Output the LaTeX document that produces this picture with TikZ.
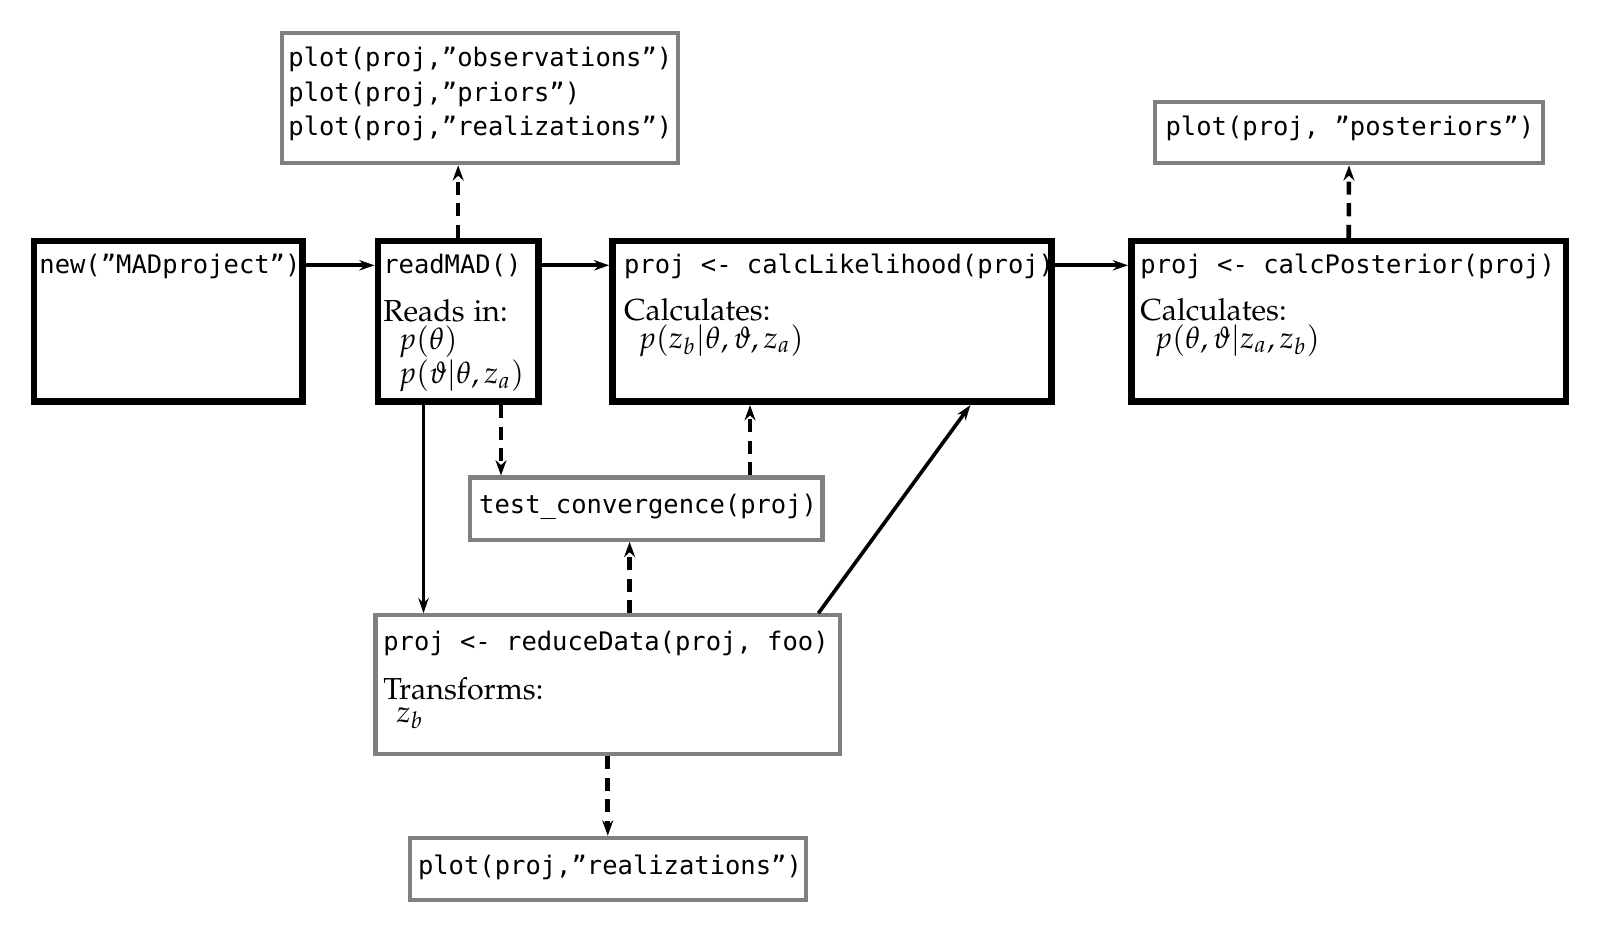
\documentclass[tikz,border=0pt]{standalone}
\usepackage[T1]{fontenc}
\usepackage{mathpazo}
\usepackage{fontspec}
\setmonofont{DejaVu Sans Mono}[Scale=0.84]
\usetikzlibrary{arrows.meta,calc}

% one drawing unit in points
\newcommand{\pxu}{0.3293pt}
\newcommand{\qq}{\textquotedblright}
\newcommand{\palfont}{\fontencoding{T1}\fontfamily{pplx}\selectfont}

\tikzset{
  thickbox/.style={draw=black, line width=2.2pt, rectangle, inner sep=0pt},
  graybox/.style={draw=gray, line width=1.35pt, rectangle, inner sep=0pt},
  txt/.style={anchor=base west, inner sep=0pt, font=\fontsize{10}{12}\palfont},
  code/.style={anchor=base west, inner sep=0pt, font=\fontsize{10}{12}\selectfont\ttfamily},
  flow/.style={line width=1.2pt, -{Stealth[length=5pt,width=3.4pt,inset=1.6pt]}},
  dflow/.style={line width=1.5pt, dash pattern=on 4.3pt off 2.8pt,
                -{Stealth[length=5pt,width=3.6pt,inset=1.6pt]}},
}

\begin{document}
\begin{tikzpicture}[x=\pxu, y=-\pxu]
\useasboundingbox (0,0) rectangle (1600,928);

% ---- main pipeline boxes
\node[thickbox, minimum width=268.8*\pxu, minimum height=160.6*\pxu] (new)  at (168.4,321.45) {};
\node[thickbox, minimum width=160.6*\pxu, minimum height=160.6*\pxu] (rm)   at (458.15,321.45) {};
\node[thickbox, minimum width=439.1*\pxu, minimum height=160.6*\pxu] (lik)  at (832.1,321.45) {};
\node[thickbox, minimum width=434.7*\pxu, minimum height=160.6*\pxu] (post) at (1348.7,321.45) {};

% ---- auxiliary boxes
\node[graybox, minimum width=396*\pxu,   minimum height=130.7*\pxu] (plots) at (479.6,97.95) {};
\node[graybox, minimum width=388*\pxu,   minimum height=61.3*\pxu]  (pplot) at (1349,132.65) {};
\node[graybox, minimum width=352.1*\pxu, minimum height=62.3*\pxu]  (tc)    at (646.45,508.65) {};
\node[graybox, minimum width=464.5*\pxu, minimum height=138.8*\pxu] (red)   at (607.75,684.7) {};
\node[graybox, minimum width=396*\pxu,   minimum height=62.3*\pxu]  (preal) at (608.2,868.85) {};

% ---- texts
\node[code] (tnew) at (38.8,273.5) {new(\qq MADproject\qq)};

\node[code] (trm)  at (382.7,273.5) {readMAD()};
\node[txt]  (trm1) at (382.7,321.4) {Reads in:};
\node[txt]  (trm2) at (398,349) {$p(\theta)$};
\node[txt]  (trm3) at (398,383.5) {$p(\vartheta|\theta,z_a)$};

\node[code] (tlik)  at (623.5,273.5) {proj <- calcLikelihood(proj)};
\node[txt]  (tlik1) at (623.5,320.4) {Calculates:};
\node[txt]  (tlik2) at (637.8,348) {$p(z_b|\theta,\vartheta,z_a)$};

\node[code] (tpost)  at (1139.8,273.5) {proj <- calcPosterior(proj)};
\node[txt]  (tpost1) at (1139.8,320.4) {Calculates:};
\node[txt]  (tpost2) at (1154,348) {$p(\theta,\vartheta|z_a,z_b)$};

\node[code] (tpl1) at (287.8,66.3)  {plot(proj,\qq observations\qq)};
\node[code] (tpl2) at (287.8,101)   {plot(proj,\qq priors\qq)};
\node[code] (tpl3) at (287.8,135.7) {plot(proj,\qq realizations\qq)};

\node[code] (tpp) at (1165,135.7) {plot(proj, \qq posteriors\qq)};

\node[code] (ttc) at (478.6,513.3) {test\_convergence(proj)};

\node[code] (tred)  at (382.7,650) {proj <- reduceData(proj, foo)};
\node[txt]  (tred1) at (382.7,699) {Transforms:};
\node[txt]  (tred2) at (396,722.5) {$z_b$};

\node[code] (tpr) at (417.4,874.5) {plot(proj,\qq realizations\qq)};

% ---- solid connectors
\coordinate (y0) at (0,265.3);
\draw[flow] (new.east |- y0) -- (rm.west |- y0);
\draw[flow] (rm.east |- y0) -- (lik.west |- y0);
\draw[flow] (lik.east |- y0) -- (post.west |- y0);

\coordinate (rmA) at ($(rm.south)+(-34.65,0)$);
\draw[flow] (rmA) -- (rmA |- red.north);

\coordinate (redA) at ($(red.north)+(210.65,0)$);
\coordinate (likA) at ($(lik.south)+(138.3,0)$);
\draw[flow] (redA) -- (likA);

% ---- dashed connectors
\draw[dflow] (rm.north) -- (rm.north |- plots.south);
\draw[dflow] (post.north) -- (pplot.south);
\draw[dflow] (red.south) -- (red.south |- preal.north);

\coordinate (rmB) at ($(rm.south)+(42.85,0)$);
\draw[dflow] (rmB) -- (rmB |- tc.north);

\coordinate (tcA) at ($(tc.north)+(103.55,0)$);
\draw[dflow] (tcA) -- (tcA |- lik.south);

\coordinate (redB) at ($(red.north)+(21.85,0)$);
\draw[dflow] (redB) -- (redB |- tc.south);
\end{tikzpicture}
\end{document}
